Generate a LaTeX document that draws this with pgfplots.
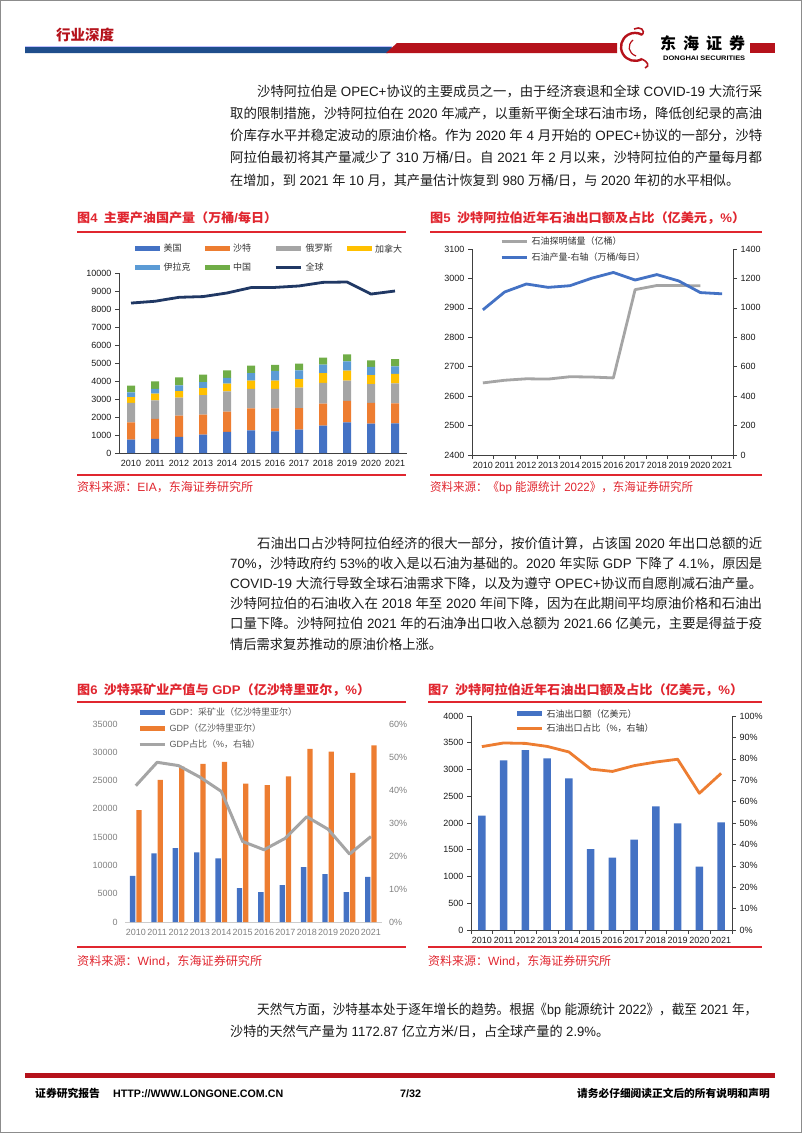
\documentclass[border=0pt]{standalone}
\usepackage{pgfplots}
\pgfplotsset{compat=1.18}
\usepackage{graphicx}
\usepackage{fontspec}
\setmainfont{Liberation Sans}
\newfontfamily\cjkfont{Noto Sans CJK SC}
% switch to the CJK font for CJK characters
\XeTeXinterchartokenstate=1
\newXeTeXintercharclass\cjkclass
\makeatletter
\count@="3000
\loop \XeTeXcharclass\count@=\cjkclass \ifnum\count@<"303F \advance\count@ 1 \repeat
\count@="4E00
\loop \XeTeXcharclass\count@=\cjkclass \ifnum\count@<"9FFF \advance\count@ 1 \repeat
\count@="FF00
\loop \XeTeXcharclass\count@=\cjkclass \ifnum\count@<"FFEF \advance\count@ 1 \repeat
\makeatother
\XeTeXinterchartoks 0 \cjkclass = {\begingroup\cjkfont}
\XeTeXinterchartoks 4095 \cjkclass = {\begingroup\cjkfont}
\XeTeXinterchartoks \cjkclass 0 = {\endgroup}
\XeTeXinterchartoks \cjkclass 4095 = {\endgroup}

\definecolor{obblue}{HTML}{4472C4}
\definecolor{oborange}{HTML}{ED7D31}
\definecolor{obgray}{HTML}{A5A5A5}
\definecolor{obgold}{HTML}{FFC000}
\definecolor{oblblue}{HTML}{5B9BD5}
\definecolor{obgreen}{HTML}{70AD47}
\definecolor{navyline}{HTML}{203864}
\definecolor{hdred}{HTML}{B5121B}
\definecolor{hdnavy}{HTML}{1F4E8C}
\definecolor{tred}{HTML}{E0262F}
\definecolor{txt}{HTML}{1A1A1A}
\definecolor{gray6}{HTML}{808080}

\newcommand\bodyfont{\fontsize{13.5}{16}\selectfont}
\newcommand\Ln[4]{\node[anchor=base west,inner sep=0pt,font=\bodyfont,text=txt] at (#1,#2) {\resizebox{#3pt}{\height}{#4}};}
\newcommand\Tt[4]{\node[anchor=base west,inner sep=0pt,font=\fontsize{12.5}{14}\selectfont\bfseries,text=tred] at (#1,#2) {\resizebox{#3pt}{\height}{#4}};}
\newcommand\Src[4]{\node[anchor=base west,inner sep=0pt,font=\fontsize{12}{14}\selectfont,text=tred] at (#1,#2) {\resizebox{#3pt}{\height}{#4}};}

\pgfplotsset{
  barleg/.style={legend image code/.code={\fill[##1] (0pt,-2.5pt) rectangle (25pt,2.5pt);}},
  lineleg/.style={legend image code/.code={\draw[##1] (0pt,0pt) -- (25pt,0pt);}},
  yrs/.style={xmin=-0.5,xmax=11.5,xtick={0,...,11},
    xticklabels={2010,2011,2012,2013,2014,2015,2016,2017,2018,2019,2020,2021}},
  pg/.style={scale only axis, anchor=south west, clip=false, scaled ticks=false,
    tick label style={font=\fontsize{9}{10}\selectfont, text=txt},
    major tick length=4pt, minor tick length=4pt, tick align=outside,
    axis line style={-, black!75, line width=0.6pt},
    tick style={black!75, line width=0.6pt}},
  leg/.style={legend cell align=left, legend style={draw=none, fill=none, inner sep=0pt,
    anchor=west, font=\fontsize{9}{10}\selectfont, text=black!80,
    nodes={inner sep=0pt}, cells={anchor=west},
    /tikz/every odd column/.append style={column sep=3.5pt}}},
}

\begin{document}
\begin{tikzpicture}
\useasboundingbox (0pt,0pt) rectangle (802pt,-1133pt);
\begin{scope}[x=1pt,y=-1pt]
\draw[black!45, line width=1.2pt] (0.6,0.6) rectangle (801.4,1132.4);
% header
\node[anchor=base west, inner sep=0pt, text=hdred, font=\fontsize{14.5}{16}\selectfont\bfseries] at (56,40.5) {行业深度};
\fill[blue!25] (25,45.6) rectangle (392,47);
\fill[hdnavy] (25,47) -- (392,47) -- (388,53) -- (25,53) -- cycle;
\fill[hdred] (386,53) -- (397,43) -- (617,43) -- (617,53) -- cycle;
\fill[hdred] (750,43) rectangle (775,53);
% logo
\draw[hdred, line width=2.4pt] (642,59) arc[start angle=60, end angle=300, radius=14];
\draw[hdred, line width=1.6pt] (642,35) .. controls (646,30) and (640,26) .. (634,29);
\draw[hdred, line width=1.2pt] (633,40) .. controls (627,45) and (628,53) .. (636,56);
\draw[hdred, line width=1.6pt] (642,59) .. controls (648,62) and (650,66) .. (645,68);
\node[anchor=base west, inner sep=0pt, font=\fontsize{16}{18}\selectfont\bfseries] at (660,49) {东\hspace{7pt}海\hspace{7pt}证\hspace{7pt}券};
\node[anchor=base west, inner sep=0pt, font=\fontsize{6.5}{7}\selectfont\bfseries] at (663,60.5) {\resizebox{82pt}{\height}{DONGHAI SECURITIES}};
% paragraph 1
\Ln{257}{96}{505}{沙特阿拉伯是 OPEC+协议的主要成员之一，由于经济衰退和全球 COVID-19 大流行采}
\Ln{230}{118.3}{532}{取的限制措施，沙特阿拉伯在 2020 年减产，以重新平衡全球石油市场，降低创纪录的高油}
\Ln{230}{140.6}{532}{价库存水平并稳定波动的原油价格。作为 2020 年 4 月开始的 OPEC+协议的一部分，沙特}
\Ln{230}{162.9}{532}{阿拉伯最初将其产量减少了 310 万桶/日。自 2021 年 2 月以来，沙特阿拉伯的产量每月都}
\Ln{230}{185.2}{509}{在增加，到 2021 年 10 月，其产量估计恢复到 980 万桶/日，与 2020 年初的水平相似。}
% chart titles row 1
\Tt{77}{222.8}{200}{图4\hspace{6pt}主要产油国产量（万桶/每日）}
\Tt{430}{222.8}{315}{图5\hspace{6pt}沙特阿拉伯近年石油出口额及占比（亿美元，\%）}
\draw[tred, line width=1.2pt] (77,232) -- (406,232);
\draw[tred, line width=1.2pt] (430,232) -- (762,232);
\draw[tred, line width=1.2pt] (77,475) -- (406,475);
\draw[tred, line width=1.2pt] (430,475) -- (762,475);
\Src{77}{491.6}{176}{资料来源：EIA，东海证券研究所}
\Src{430}{491.6}{263}{资料来源：《bp 能源统计 2022》，东海证券研究所}
% paragraph 2
\Ln{257}{548}{505}{石油出口占沙特阿拉伯经济的很大一部分，按价值计算，占该国 2020 年出口总额的近}
\Ln{230}{568.2}{532}{70\%，沙特政府约 53\%的收入是以石油为基础的。2020 年实际 GDP 下降了 4.1\%，原因是}
\Ln{230}{588.4}{532}{COVID-19 大流行导致全球石油需求下降，以及为遵守 OPEC+协议而自愿削减石油产量。}
\Ln{230}{608.6}{532}{沙特阿拉伯的石油收入在 2018 年至 2020 年间下降，因为在此期间平均原油价格和石油出}
\Ln{230}{628.8}{532}{口量下降。沙特阿拉伯 2021 年的石油净出口收入总额为 2021.66 亿美元，主要是得益于疫}
\Ln{230}{649}{212}{情后需求复苏推动的原油价格上涨。}
% chart titles row 2
\Tt{77}{694.8}{293}{图6\hspace{6pt}沙特采矿业产值与 GDP（亿沙特里亚尔，\%）}
\Tt{428}{694.8}{315}{图7\hspace{6pt}沙特阿拉伯近年石油出口额及占比（亿美元，\%）}
\draw[tred, line width=1.2pt] (77,702) -- (406,702);
\draw[tred, line width=1.2pt] (428,702) -- (762,702);
\draw[tred, line width=1.2pt] (77,947) -- (406,947);
\draw[tred, line width=1.2pt] (428,947) -- (762,947);
\Src{77}{965.6}{185}{资料来源：Wind，东海证券研究所}
\Src{428}{965.6}{183}{资料来源：Wind，东海证券研究所}
% paragraph 3
\Ln{257}{1014}{500}{天然气方面，沙特基本处于逐年增长的趋势。根据《bp 能源统计 2022》，截至 2021 年，}
\Ln{230}{1036}{379}{沙特的天然气产量为 1172.87 亿立方米/日，占全球产量的 2.9\%。}
% footer
\fill[hdred] (25,1073) rectangle (775,1078);
\node[anchor=base west, inner sep=0pt, font=\fontsize{10.8}{12}\selectfont\bfseries] at (35,1097) {证券研究报告};
\node[anchor=base west, inner sep=0pt, font=\fontsize{10.8}{12}\selectfont\bfseries] at (113,1097) {\resizebox{170pt}{\height}{HTTP://WWW.LONGONE.COM.CN}};
\node[anchor=base west, inner sep=0pt, font=\fontsize{10.8}{12}\selectfont\bfseries] at (400,1097) {7/32};
\node[anchor=base east, inner sep=0pt, font=\fontsize{10.7}{12}\selectfont\bfseries] at (770,1097) {请务必仔细阅读正文后的所有说明和声明};
\end{scope}

% ---------- chart 4 ----------
\begin{axis}[pg, yrs, at={(119pt,-453pt)}, width=288pt, height=180pt,
  ymin=0, ymax=10000, ytick={0,1000,...,10000},
  yticklabels={0,1000,2000,3000,4000,5000,6000,7000,8000,9000,10000},
  axis x line*=bottom, axis y line*=left, major x tick style={draw=none},
  ybar stacked, bar width=8pt]
\addplot[fill=obblue, draw=none] coordinates {(0,740)(1,780)(2,890)(3,1020)(4,1170)(5,1260)(6,1200)(7,1300)(8,1520)(9,1700)(10,1630)(11,1650)};
\addplot[fill=oborange, draw=none] coordinates {(0,960)(1,1110)(2,1180)(3,1110)(4,1130)(5,1220)(6,1280)(7,1200)(8,1220)(9,1190)(10,1150)(11,1110)};
\addplot[fill=obgray, draw=none] coordinates {(0,1080)(1,1040)(2,1000)(3,1090)(4,1130)(5,1080)(6,1080)(7,1130)(8,1150)(9,1130)(10,1050)(11,1110)};
\addplot[fill=obgold, draw=none] coordinates {(0,330)(1,370)(2,370)(3,390)(4,420)(5,460)(6,460)(7,480)(8,550)(9,550)(10,500)(11,520)};
\addplot[fill=oblblue, draw=none] coordinates {(0,260)(1,260)(2,320)(3,330)(4,320)(5,420)(6,540)(7,480)(8,470)(9,520)(10,450)(11,420)};
\addplot[fill=obgreen, draw=none] coordinates {(0,370)(1,420)(2,440)(3,410)(4,420)(5,410)(6,330)(7,370)(8,390)(9,390)(10,370)(11,410)};
\end{axis}
\begin{axis}[pg, yrs, at={(119pt,-453pt)}, width=288pt, height=180pt,
  ymin=0, ymax=10000, hide axis, leg, legend columns=4,
  legend style={at={(rel axis cs:0.0556,1.0833)}, row sep=9pt}]
\addlegendimage{barleg, fill=obblue, draw=none}\addlegendentry{\makebox[41pt][l]{美国}}
\addlegendimage{barleg, fill=oborange, draw=none}\addlegendentry{\makebox[41pt][l]{沙特}}
\addlegendimage{barleg, fill=obgray, draw=none}\addlegendentry{\makebox[41pt][l]{俄罗斯}}
\addlegendimage{barleg, fill=obgold, draw=none}\addlegendentry{\makebox[41pt][l]{加拿大}}
\addlegendimage{barleg, fill=oblblue, draw=none}\addlegendentry{\makebox[41pt][l]{伊拉克}}
\addlegendimage{barleg, fill=obgreen, draw=none}\addlegendentry{\makebox[41pt][l]{中国}}
\addplot[lineleg, navyline, line width=2.8pt, line join=round] coordinates {(0,8330)(1,8430)(2,8650)(3,8690)(4,8890)(5,9190)(6,9200)(7,9280)(8,9480)(9,9500)(10,8830)(11,9000)};
\addlegendentry{\makebox[41pt][l]{全球}}
\end{axis}

% ---------- chart 5 ----------
\begin{axis}[pg, yrs, at={(472pt,-455pt)}, width=261pt, height=206pt,
  ymin=2400, ymax=3100, ytick={2400,2500,...,3100},
  yticklabels={2400,2500,2600,2700,2800,2900,3000,3100},
  axis x line*=bottom, axis y line*=left, major x tick style={draw=none},
  minor xtick={-0.5,0.5,...,11.5}]
\addplot[obgray, line width=2.8pt, line join=round] coordinates {(0,2645)(1,2654)(2,2659)(3,2658)(4,2666)(5,2665)(6,2662)(7,2962)(8,2976)(9,2976)(10,2975)};
\end{axis}
\begin{axis}[pg, yrs, xtick=\empty, at={(472pt,-455pt)}, width=261pt, height=206pt,
  ymin=0, ymax=1400, ytick={0,200,...,1400},
  yticklabels={0,200,400,600,800,1000,1200,1400},
  axis y line*=right, axis x line=none, leg,
  legend style={at={(rel axis cs:0.1073,0.9976)}, row sep=6pt}]
\addlegendimage{lineleg, obgray, line width=2.8pt}\addlegendentry{石油探明储量（亿桶）}
\addplot[lineleg, obblue, line width=2.8pt, line join=round] coordinates {(0,986.5)(1,1107.9)(2,1162.2)(3,1139.3)(4,1150.5)(5,1201.4)(6,1240.6)(7,1189.2)(8,1226.1)(9,1183.2)(10,1103.9)(11,1095.4)};
\addlegendentry{石油产量-右轴（万桶/每日）}
\end{axis}

% ---------- chart 6 ----------
\begin{axis}[pg, yrs, at={(125.1pt,-922pt)}, width=256.5pt, height=198pt,
  ymin=0, ymax=35000, ytick={0,5000,...,35000},
  yticklabels={0,5000,10000,15000,20000,25000,30000,35000},
  axis x line*=bottom, axis y line*=left, y axis line style={draw=none},
  x axis line style={draw=black!20}, tick style={draw=none},
  tick label style={text=gray6},
  ybar=1pt, bar width=5.3pt, leg,
  legend style={at={(rel axis cs:0.0503,0.977)}, row sep=6.5pt, text=black!65}]
\addplot[barleg, fill=obblue, draw=none, bar shift=-3.15pt] coordinates {(0,8176)(1,12118)(2,13059)(3,12294)(4,11235)(5,6000)(6,5294)(7,6529)(8,9706)(9,8470)(10,5294)(11,8000)};
\addlegendentry{GDP：采矿业（亿沙特里亚尔）}
\addplot[barleg, fill=oborange, draw=none, bar shift=3.15pt] coordinates {(0,19765)(1,25118)(2,27470)(3,27941)(4,28294)(5,24471)(6,24176)(7,25765)(8,30588)(9,30118)(10,26353)(11,31235)};
\addlegendentry{GDP（亿沙特里亚尔）}
\addlegendimage{lineleg, obgray, line width=3pt}\addlegendentry{GDP占比（\%，右轴）}
\end{axis}
\begin{axis}[pg, yrs, xtick=\empty, at={(125.1pt,-922pt)}, width=256.5pt, height=198pt,
  ymin=0, ymax=60, ytick={0,10,...,60},
  yticklabels={0\%,10\%,20\%,30\%,40\%,50\%,60\%},
  axis y line*=right, axis x line=none, y axis line style={draw=none},
  tick style={draw=none}, tick label style={text=gray6}]
\addplot[obgray, line width=3pt, line join=round] coordinates {(0,41.3)(1,48.4)(2,47.4)(3,43.9)(4,39.6)(5,24.4)(6,21.9)(7,25.4)(8,31.9)(9,28.1)(10,20.6)(11,25.9)};
\end{axis}

% ---------- chart 7 ----------
\begin{axis}[pg, yrs, at={(471pt,-930pt)}, width=261pt, height=214pt,
  ymin=0, ymax=4000, ytick={0,500,...,4000},
  yticklabels={0,500,1000,1500,2000,2500,3000,3500,4000},
  axis x line*=bottom, axis y line*=left, major x tick style={draw=none},
  minor xtick={-0.5,0.5,...,11.5},
  ybar, bar width=7.3pt, leg,
  legend style={at={(rel axis cs:0.1686,0.9766)}, row sep=5pt}]
\addplot[barleg, fill=obblue, draw=none, bar shift=0pt] coordinates {(0,2137)(1,3171)(2,3364)(3,3209)(4,2835)(5,1514)(6,1352)(7,1688)(8,2311)(9,1994)(10,1184)(11,2012)};
\addlegendentry{石油出口额（亿美元）}
\addlegendimage{lineleg, oborange, line width=2.8pt}\addlegendentry{石油出口占比（\%，右轴）}
\end{axis}
\begin{axis}[pg, yrs, xtick=\empty, at={(471pt,-930pt)}, width=261pt, height=214pt,
  ymin=0, ymax=100, ytick={0,10,...,100},
  yticklabels={0\%,10\%,20\%,30\%,40\%,50\%,60\%,70\%,80\%,90\%,100\%},
  axis y line*=right, axis x line=none]
\addplot[oborange, line width=2.8pt, line join=round] coordinates {(0,85.7)(1,87.4)(2,87.2)(3,85.8)(4,83.2)(5,75.2)(6,74.1)(7,76.8)(8,78.5)(9,79.8)(10,63.9)(11,73.2)};
\end{axis}
\end{tikzpicture}
\end{document}
